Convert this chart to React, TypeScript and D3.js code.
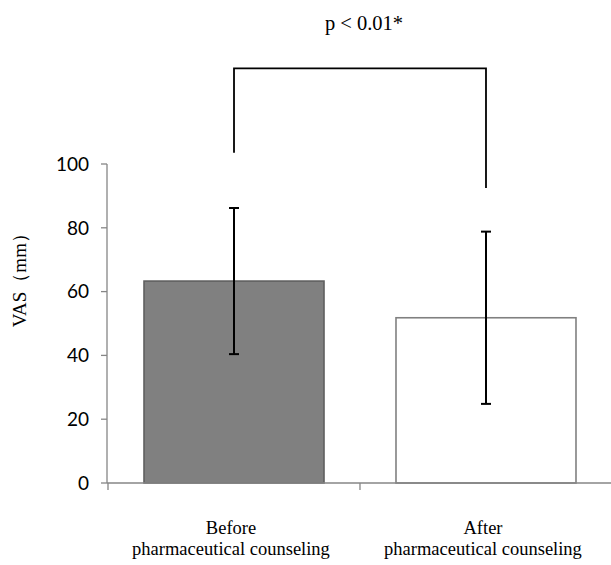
import React, { useEffect, useRef } from "react";
import * as d3 from "d3";

// values
const groups = ["Before", "After"];
const groupLabels = [
  ["Before", "pharmaceutical counseling"],
  ["After", "pharmaceutical counseling"],
];
const means = [63.3, 51.8];
const sds = [22.9, 27.0];
const yTicks = [0, 20, 40, 60, 80, 100];
// bracket levels (in VAS units): left leg end, top bar, right leg end
const bracket = [103.5, 130, 92.5];
const pLabel = "p < 0.01*";

const width = 611;
const height = 565;

function App() {
  const ref = useRef<SVGSVGElement | null>(null);

  useEffect(() => {
    document.body.style.margin = "0";
    const svg = d3.select(ref.current);
    svg.selectAll("*").remove();

    const y = d3.scaleLinear().domain([0, 100]).range([483, 164]);
    const x = d3
      .scaleBand()
      .domain(groups)
      .range([108, 612])
      .paddingInner(0.2857)
      .paddingOuter(0.1429);
    const step = x.step();
    const cx = (g: string) => (x(g) as number) + x.bandwidth() / 2;

    const axisColor = "#868686";
    const serif = "'Liberation Serif', 'Times New Roman', serif";

    // y axis
    const yAxis = svg.append("g").attr("transform", "translate(107,0)");
    yAxis
      .append("line")
      .attr("y1", y(0))
      .attr("y2", y(100))
      .attr("stroke", axisColor)
      .attr("stroke-width", 1.3);
    const yt = yAxis
      .selectAll("g.tick")
      .data(yTicks)
      .enter()
      .append("g")
      .attr("transform", (d) => `translate(0,${y(d)})`);
    yt.append("line").attr("x1", -6).attr("x2", 0).attr("stroke", axisColor).attr("stroke-width", 1.3);
    yt.append("text")
      .attr("x", -18)
      .attr("dy", "0.36em")
      .attr("text-anchor", "end")
      .style("font-family", "Lato, 'Open Sans', sans-serif")
      .style("font-size", "19px")
      .attr("fill", "#000")
      .text((d) => d);

    // y title
    svg
      .append("text")
      .attr("transform", `translate(26,${y(65)}) rotate(-90)`)
      .attr("text-anchor", "middle")
      .style("font-family", serif)
      .style("font-size", "19px")
      .text("VAS（mm）");

    // bars
    svg
      .selectAll("rect.bar")
      .data(groups)
      .enter()
      .append("rect")
      .attr("class", "bar")
      .attr("x", (g) => x(g) as number)
      .attr("width", x.bandwidth())
      .attr("y", (g, i) => y(means[i]))
      .attr("height", (g, i) => y(0) - y(means[i]))
      .attr("fill", (g, i) => (i === 0 ? "#808080" : "#ffffff"))
      .attr("stroke", (g, i) => (i === 0 ? "#5f5f5f" : "#808080"))
      .attr("stroke-width", 1.6);

    // x axis
    const xAxis = svg.append("g");
    xAxis
      .append("line")
      .attr("x1", 107)
      .attr("x2", 612)
      .attr("y1", y(0))
      .attr("y2", y(0))
      .attr("stroke", axisColor)
      .attr("stroke-width", 1.3);
    const xTickPos = [0, 1, 2].map((i) => 108 + i * step);
    xAxis
      .selectAll("line.tick")
      .data(xTickPos)
      .enter()
      .append("line")
      .attr("x1", (d) => d)
      .attr("x2", (d) => d)
      .attr("y1", y(0))
      .attr("y2", y(0) + 7)
      .attr("stroke", axisColor)
      .attr("stroke-width", 1.3);

    const lbl = xAxis
      .selectAll("text.lbl")
      .data(groups)
      .enter()
      .append("text")
      .attr("text-anchor", "middle")
      .style("font-family", serif)
      .style("font-size", "18.5px");
    lbl.each(function (g, i) {
      const t = d3.select(this);
      groupLabels[i].forEach((line, j) => {
        t.append("tspan")
          .attr("x", cx(g) - 3)
          .attr("y", 534 + j * 21)
          .text(line);
      });
    });

    // error bars
    const err = svg
      .selectAll("g.err")
      .data(groups)
      .enter()
      .append("g")
      .attr("stroke", "#000")
      .attr("stroke-width", 2);
    err.append("line")
      .attr("x1", (g) => cx(g))
      .attr("x2", (g) => cx(g))
      .attr("y1", (g, i) => y(means[i] + sds[i]))
      .attr("y2", (g, i) => y(means[i] - sds[i]));
    err.append("line")
      .attr("x1", (g) => cx(g) - 5)
      .attr("x2", (g) => cx(g) + 5)
      .attr("y1", (g, i) => y(means[i] + sds[i]))
      .attr("y2", (g, i) => y(means[i] + sds[i]));
    err.append("line")
      .attr("x1", (g) => cx(g) - 5)
      .attr("x2", (g) => cx(g) + 5)
      .attr("y1", (g, i) => y(means[i] - sds[i]))
      .attr("y2", (g, i) => y(means[i] - sds[i]));

    // significance bracket
    const bx0 = cx(groups[0]);
    const bx1 = cx(groups[1]);
    svg
      .append("path")
      .attr(
        "d",
        d3.line()([
          [bx0, y(bracket[0])],
          [bx0, y(bracket[1])],
          [bx1, y(bracket[1])],
          [bx1, y(bracket[2])],
        ]) as string
      )
      .attr("fill", "none")
      .attr("stroke", "#000")
      .attr("stroke-width", 1.8);

    svg
      .append("text")
      .attr("x", (bx0 + bx1) / 2 + 4)
      .attr("y", 30)
      .attr("text-anchor", "middle")
      .style("font-family", serif)
      .style("font-size", "20.5px")
      .text(pLabel);
  }, []);

  return <svg ref={ref} width={width} height={height} style={{ display: "block", background: "#fff" }} />;
}

export default App;
